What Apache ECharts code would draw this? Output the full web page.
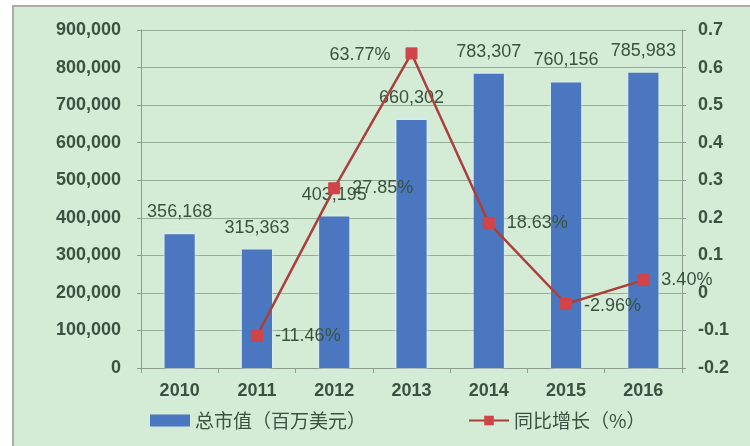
<!DOCTYPE html>
<html>
<head>
<meta charset="utf-8">
<script src="https://cdn.jsdelivr.net/npm/echarts@6/dist/echarts.min.js"></script>
<style>
  html, body { margin: 0; padding: 0; background: #ffffff; }
  #chart { width: 750px; height: 446px; }
</style>
</head>
<body>
<div id="chart"></div>
<script>
// Years on the category axis
const years = ['2010', '2011', '2012', '2013', '2014', '2015', '2016'];
// Total market value, million USD
const marketValue = [356168, 315363, 403195, 660302, 783307, 760156, 785983];
// Year-on-year growth (fraction)
const yoyGrowth = [null, -0.1146, 0.2785, 0.6377, 0.1863, -0.0296, 0.0340];
// Growth label text shown next to each marker
const growthLabels = ['', '-11.46%', '27.85%', '63.77%', '18.63%', '-2.96%', '3.40%'];

const barName = '总市值（百万美元）';
const lineName = '同比增长（%）';

const textColor = '#3a5240';
const gridColor = '#93ad94';
const axisColor = '#8d9c8e';
const numFont = '"Liberation Sans", Arial, sans-serif';
const cjkFont = '"Noto Sans CJK SC", "Liberation Sans", sans-serif';

const chart = echarts.init(document.getElementById('chart'), null, { renderer: 'canvas' });

chart.setOption({
  backgroundColor: '#ffffff',
  animation: false,
  graphic: [{
    type: 'rect',
    z: -10,
    silent: true,
    shape: { x: 13, y: 6, width: 760, height: 470 },
    style: { fill: '#d4ebd5', stroke: '#a6aea6', lineWidth: 2 }
  }],
  grid: { left: 141, right: 68, top: 30, bottom: 78 },
  legend: {
    left: 145,
    top: 406,
    itemGap: 102,
    itemWidth: 40,
    itemHeight: 12,
    textStyle: { color: textColor, fontSize: 19, fontFamily: cjkFont },
    data: [
      { name: barName, icon: 'rect' },
      { name: lineName }
    ]
  },
  xAxis: {
    type: 'category',
    data: years,
    axisLine: { lineStyle: { color: axisColor, width: 1 } },
    axisTick: { show: true, length: 5, lineStyle: { color: axisColor } },
    axisLabel: { color: textColor, fontSize: 18, fontWeight: 'bold', fontFamily: numFont, margin: 14 }
  },
  yAxis: [{
    type: 'value',
    min: 0,
    max: 900000,
    interval: 100000,
    axisLine: { show: true, lineStyle: { color: axisColor } },
    axisTick: { show: true, length: 4, lineStyle: { color: axisColor } },
    splitLine: { lineStyle: { color: gridColor, width: 1 } },
    axisLabel: {
      color: textColor, fontSize: 18, fontWeight: 'bold', fontFamily: numFont, margin: 20,
      formatter: v => v.toLocaleString('en-US')
    }
  }, {
    type: 'value',
    min: -0.2,
    max: 0.7,
    interval: 0.1,
    axisLine: { show: true, lineStyle: { color: axisColor } },
    axisTick: { show: true, length: 4, lineStyle: { color: axisColor } },
    splitLine: { show: false },
    axisLabel: {
      color: textColor, fontSize: 18, fontWeight: 'bold', fontFamily: numFont, margin: 16,
      formatter: v => String(Math.round(v * 10) / 10)
    }
  }],
  series: [{
    name: barName,
    type: 'bar',
    data: marketValue,
    barWidth: '39%',
    itemStyle: {
      color: '#4a77bf',
      shadowColor: 'rgba(225,240,255,0.95)',
      shadowBlur: 5
    },
    label: {
      show: true,
      position: 'top',
      distance: 13,
      color: textColor,
      fontSize: 18,
      fontFamily: numFont,
      formatter: p => p.value.toLocaleString('en-US')
    }
  }, {
    name: lineName,
    type: 'line',
    yAxisIndex: 1,
    data: yoyGrowth,
    symbol: 'rect',
    symbolSize: 11,
    lineStyle: { color: '#a9403c', width: 2.5 },
    itemStyle: { color: '#d14448', borderColor: '#d14448' },
    label: {
      show: true,
      position: 'right',
      distance: 12,
      color: textColor,
      fontSize: 18,
      fontFamily: numFont,
      formatter: p => growthLabels[p.dataIndex]
    },
    labelLayout: p => p.dataIndex === 3 ? { dx: -100, dy: 2 } : (p.dataIndex === 5 ? { dy: 2 } : {})
  }]
});
</script>
</body>
</html>
